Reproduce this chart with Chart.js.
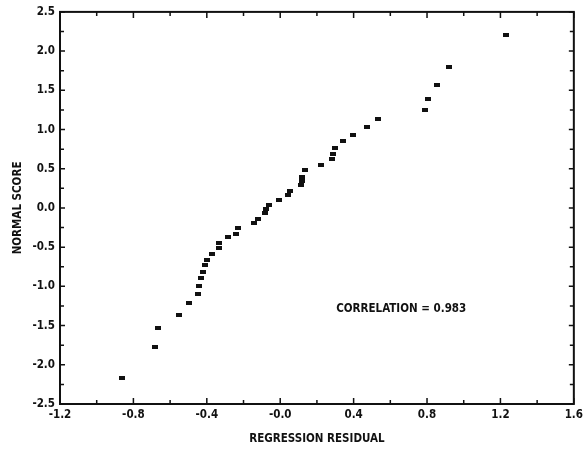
<!DOCTYPE html>
<html>
<head>
<meta charset="utf-8">
<script src="https://cdn.jsdelivr.net/npm/chart.js@4.4.1/dist/chart.umd.min.js"></script>
<style>
  html, body { margin: 0; padding: 0; background: #fff; }
</style>
</head>
<body>
<canvas id="chart" width="587" height="452"></canvas>
<script>
// residual vs normal score
const residuals = [
  -0.864, -0.685, -0.667, -0.549, -0.497, -0.448, -0.442, -0.430, -0.419, -0.410,
  -0.397, -0.374, -0.332, -0.332, -0.283, -0.243, -0.229, -0.142, -0.120, -0.084,
  -0.075, -0.062, -0.008, 0.042, 0.055, 0.115, 0.117, 0.118, 0.135, 0.222,
  0.281, 0.285, 0.298, 0.341, 0.394, 0.471, 0.535, 0.788, 0.806, 0.857,
  0.920, 1.233
];
const normalScores = [
  -2.173, -1.770, -1.536, -1.361, -1.217, -1.097, -0.995, -0.898, -0.816, -0.732,
  -0.660, -0.587, -0.515, -0.450, -0.375, -0.332, -0.255, -0.191, -0.136, -0.068,
  -0.013, 0.042, 0.106, 0.170, 0.221, 0.297, 0.348, 0.400, 0.485, 0.552,
  0.620, 0.689, 0.769, 0.850, 0.935, 1.028, 1.135, 1.254, 1.394, 1.569,
  1.800, 2.200
];

const xTickValues = [-1.2, -0.8, -0.4, 0, 0.4, 0.8, 1.2, 1.6];
const xTickLabels = ["-1.2", "-0.8", "-0.4", "-0.0", "0.4", "0.8", "1.2", "1.6"];
const xMinorTicks = [-1.0, -0.6, -0.2, 0.2, 0.6, 1.0, 1.4];
const yTickValues = [-2.5, -2.0, -1.5, -1.0, -0.5, 0, 0.5, 1.0, 1.5, 2.0, 2.5];
const yTickLabels = ["-2.5", "-2.0", "-1.5", "-1.0", "-0.5", "0.0", "0.5", "1.0", "1.5", "2.0", "2.5"];
const yMinorTicks = [-2.25, -1.75, -1.25, -0.75, -0.25, 0.25, 0.75, 1.25, 1.75, 2.25];

const correlationText = "CORRELATION = 0.983";
const correlationAt = [0.305, -1.29];

const FONT = "'DejaVu Sans Condensed', 'DejaVu Sans', sans-serif";
const INK = "#111";
const labelFont = { family: FONT, size: 11.5, weight: "bold" };

// small flat rectangle marker
const marker = document.createElement("canvas");
marker.width = 6;
marker.height = 4;
const mctx = marker.getContext("2d");
mctx.fillStyle = INK;
mctx.fillRect(0, 0, 6, 4);

const points = residuals.map((r, i) => ({ x: r, y: normalScores[i] }));

// frame, inward ticks, annotation
const framePlugin = {
  id: "frame",
  afterDatasetsDraw(chart) {
    const { ctx, chartArea: a, scales } = chart;
    const x = scales.x, y = scales.y;
    ctx.save();
    ctx.strokeStyle = INK;
    ctx.lineWidth = 2;
    ctx.strokeRect(a.left, a.top, a.right - a.left, a.bottom - a.top);

    ctx.lineWidth = 1.5;
    ctx.beginPath();
    const hTick = (v, len) => {
      const px = x.getPixelForValue(v);
      ctx.moveTo(px, a.bottom); ctx.lineTo(px, a.bottom - len);
      ctx.moveTo(px, a.top); ctx.lineTo(px, a.top + len);
    };
    const vTick = (v, len) => {
      const py = y.getPixelForValue(v);
      ctx.moveTo(a.left, py); ctx.lineTo(a.left + len, py);
      ctx.moveTo(a.right, py); ctx.lineTo(a.right - len, py);
    };
    xTickValues.forEach(v => hTick(v, 6));
    xMinorTicks.forEach(v => hTick(v, 4));
    yTickValues.forEach(v => vTick(v, 5));
    yMinorTicks.forEach(v => vTick(v, 4));
    ctx.stroke();

    ctx.fillStyle = INK;
    ctx.font = "bold 11.5px " + FONT;
    ctx.textAlign = "left";
    ctx.textBaseline = "middle";
    ctx.fillText(correlationText, x.getPixelForValue(correlationAt[0]), y.getPixelForValue(correlationAt[1]));
    ctx.restore();
  }
};

new Chart(document.getElementById("chart"), {
  type: "scatter",
  data: {
    datasets: [{
      data: points,
      pointStyle: marker,
      pointRadius: 3,
      pointHoverRadius: 3
    }]
  },
  options: {
    responsive: false,
    animation: false,
    devicePixelRatio: 1,
    layout: { padding: { top: 11, right: 12, bottom: 0, left: 0 } },
    plugins: { legend: { display: false }, tooltip: { enabled: false } },
    scales: {
      x: {
        type: "linear",
        min: -1.2,
        max: 1.6,
        afterBuildTicks: s => { s.ticks = xTickValues.map(v => ({ value: v })); },
        afterFit: s => { s.height = 48; },
        grid: { display: false, drawTicks: false },
        border: { display: false },
        ticks: {
          color: INK,
          padding: 4,
          maxRotation: 0,
          font: labelFont,
          callback: v => xTickLabels[xTickValues.indexOf(v)]
        },
        title: {
          display: true,
          text: "REGRESSION RESIDUAL",
          color: INK,
          font: labelFont,
          padding: { top: 0, bottom: 6 }
        }
      },
      y: {
        type: "linear",
        min: -2.5,
        max: 2.5,
        afterBuildTicks: s => { s.ticks = yTickValues.map(v => ({ value: v })); },
        afterFit: s => { s.width = 60; },
        grid: { display: false, drawTicks: false },
        border: { display: false },
        ticks: {
          color: INK,
          padding: 5,
          font: labelFont,
          callback: v => yTickLabels[yTickValues.indexOf(v)]
        },
        title: {
          display: true,
          text: "NORMAL SCORE",
          color: INK,
          font: labelFont,
          padding: { top: 11, bottom: 0 }
        }
      }
    }
  },
  plugins: [framePlugin]
});
</script>
</body>
</html>
